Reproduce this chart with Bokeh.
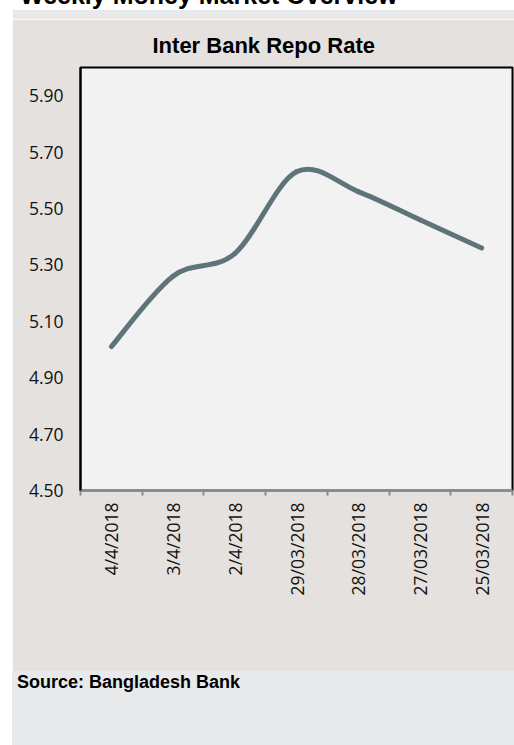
import math
from bokeh.plotting import figure
from bokeh.layouts import column
from bokeh.models import Range1d, FixedTicker, PrintfTickFormatter, Title, Div
from bokeh.embed import file_html
from bokeh.resources import INLINE

# ---- data ----
header_text = "Weekly Money Market Overview"
title_text = "Inter Bank Repo Rate"
source_text = "Source: Bangladesh Bank"
dates = ["4/4/2018", "3/4/2018", "2/4/2018", "29/03/2018", "28/03/2018", "27/03/2018", "25/03/2018"]
rates = [5.01, 5.26, 5.34, 5.63, 5.56, 5.46, 5.36]
y_ticks = [4.50, 4.70, 4.90, 5.10, 5.30, 5.50, 5.70, 5.90]
y_min, y_max = 4.50, 6.00

PANEL = "#e5e1de"
BAND = "#e8e9eb"
FRAME_BG = "#f2f2f2"
LINE = "#5f7479"
AXIS_GRAY = "#8c8c8c"

# ---- page header (cut off at the top, as in the source page) ----
header = Div(
    text=('<div style="font-family: \'Liberation Sans\'; font-weight: bold; '
          'font-size: 25px; line-height: 25px; position: relative; top: -17px; '
          'padding-left: 20px; white-space: nowrap; color: black;">' + header_text + '</div>'),
    width=514, height=10, margin=(0, 0, 0, 0),
    styles={"overflow": "hidden"})

# ---- top grey band ----
band = Div(text="", width=501, height=9, margin=(0, 0, 0, 13),
           styles={"background-color": BAND})

# ---- main chart ----
n = len(dates)
p = figure(width=502, height=652, output_backend="svg", toolbar_location=None,
           x_range=Range1d(0, n), y_range=Range1d(y_min, y_max),
           min_border_left=68, min_border_right=2,
           min_border_top=48, min_border_bottom=181,
           margin=(0, 0, 0, 12))
p.title = Title(text=title_text, align="left", offset=72, standoff=20,
                text_font="Liberation Sans", text_font_size="22px",
                text_font_style="bold", text_color="black")
p.border_fill_color = PANEL
p.background_fill_color = FRAME_BG
p.outline_line_color = "black"
p.outline_line_width = 2
p.xgrid.visible = False
p.ygrid.visible = False

# x axis: labels at category centres, ticks at boundaries
xs = [i + 0.5 for i in range(n)]
p.xaxis.ticker = FixedTicker(ticks=xs, minor_ticks=list(range(n + 1)))
p.xaxis.major_label_overrides = {x: d for x, d in zip(xs, dates)}
p.xaxis.major_label_orientation = math.pi / 2
p.xaxis.major_tick_line_color = None
p.xaxis.major_tick_out = 0
p.xaxis.major_tick_in = 0
p.xaxis.minor_tick_line_color = AXIS_GRAY
p.xaxis.minor_tick_line_width = 2
p.xaxis.minor_tick_out = 5
p.xaxis.minor_tick_in = 0
p.xaxis.axis_line_color = AXIS_GRAY
p.xaxis.axis_line_width = 3
p.xaxis.major_label_standoff = 7
p.xaxis.major_label_text_font = "Open Sans"
p.xaxis.major_label_text_font_size = "17.5px"
p.xaxis.major_label_text_color = "#111111"

# y axis
p.yaxis.ticker = FixedTicker(ticks=y_ticks)
p.yaxis.formatter = PrintfTickFormatter(format="%.2f")
p.yaxis.major_tick_line_color = None
p.yaxis.minor_tick_line_color = None
p.yaxis.major_tick_out = 0
p.yaxis.major_tick_in = 0
p.yaxis.axis_line_color = "black"
p.yaxis.axis_line_width = 2
p.yaxis.major_label_standoff = 17
p.yaxis.major_label_text_font = "Open Sans"
p.yaxis.major_label_text_font_size = "17.5px"
p.yaxis.major_label_text_color = "#111111"

# smoothed line (Bezier segments through the data points)
def ctrl(vals):
    c0, c1 = [], []
    for i in range(len(vals) - 1):
        prev = vals[i - 1] if i > 0 else vals[i]
        nxt = vals[i + 2] if i + 2 < len(vals) else vals[i + 1]
        c0.append(vals[i] + (vals[i + 1] - prev) / 6.0)
        c1.append(vals[i + 1] - (nxt - vals[i]) / 6.0)
    return c0, c1

cx0, cx1 = ctrl(xs)
cy0, cy1 = ctrl(rates)
p.bezier(x0=xs[:-1], y0=rates[:-1], x1=xs[1:], y1=rates[1:],
         cx0=cx0, cy0=cy0, cx1=cx1, cy1=cy1,
         line_color=LINE, line_width=5, line_cap="round")

# ---- source strip ----
src = Div(
    text=('<div style="font-family: \'Liberation Sans\'; font-weight: bold; '
          'font-size: 18px; line-height: 20px; padding: 1px 0 0 5px; color: black; '
          'white-space: nowrap;">' + source_text + '</div>'),
    width=502, height=74, margin=(0, 0, 0, 12),
    styles={"background-color": BAND, "overflow": "hidden"})

layout = column(header, band, p, src, spacing=0)
open("out.html", "w").write(file_html(layout, INLINE))
